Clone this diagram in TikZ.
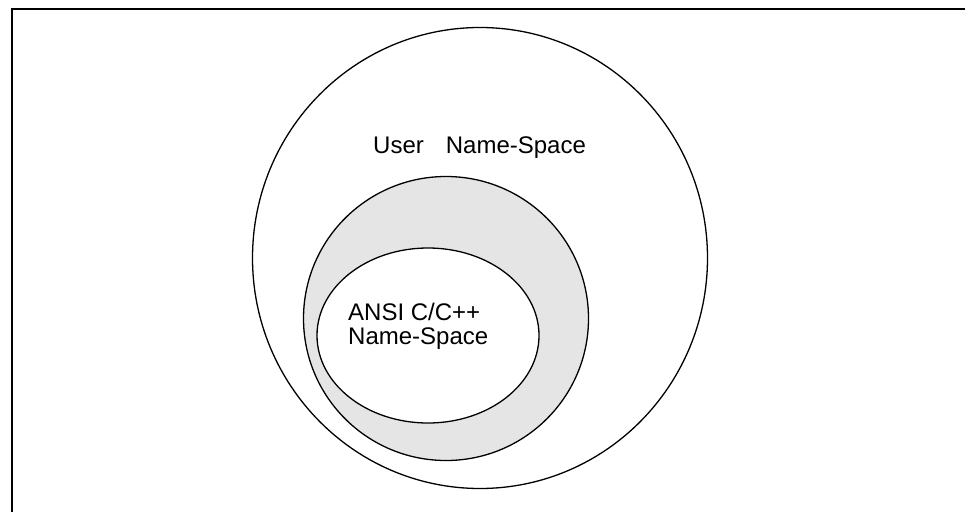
\documentclass[tikz,border=0pt]{standalone}
\usepackage{fontspec}
\setmainfont{Liberation Sans}
\usetikzlibrary{shapes.geometric}
\begin{document}
\begin{tikzpicture}[x=1pt,y=-1pt,
	space/.style={shape=ellipse, draw=black, line width=1.3pt, inner sep=0pt},
	label/.style={inner sep=0pt, font=\fontsize{24}{23.5}\selectfont, align=left},
	frame/.style={line width=2.6pt, line cap=rect}]
	\useasboundingbox (0,0) rectangle (965,511);
	% frame, only top and left edges show
	\coordinate (corner) at (12,9);
	\coordinate (right) at (968,9);
	\coordinate (bottom) at (12,514);
	\draw[frame] (right) -- (corner) -- (bottom);
	
	\node[space, minimum width=455pt, minimum height=461pt] (user) at (480,258) {};
	\node[space, fill=black!10, minimum width=285pt, minimum height=284pt] (reserved) at (446,318.5) {};
	\node[space, fill=white, minimum width=222pt, minimum height=175pt] (ansi) at (428,335.5) {};
	
	\node[label, anchor=base west] (usertext) at (373,153) {User\hspace{22pt}Name-Space};
	\node[label, anchor=base west] (ansitext) at (348,344) {ANSI C/C++\\Name-Space};
\end{tikzpicture}
\end{document}
